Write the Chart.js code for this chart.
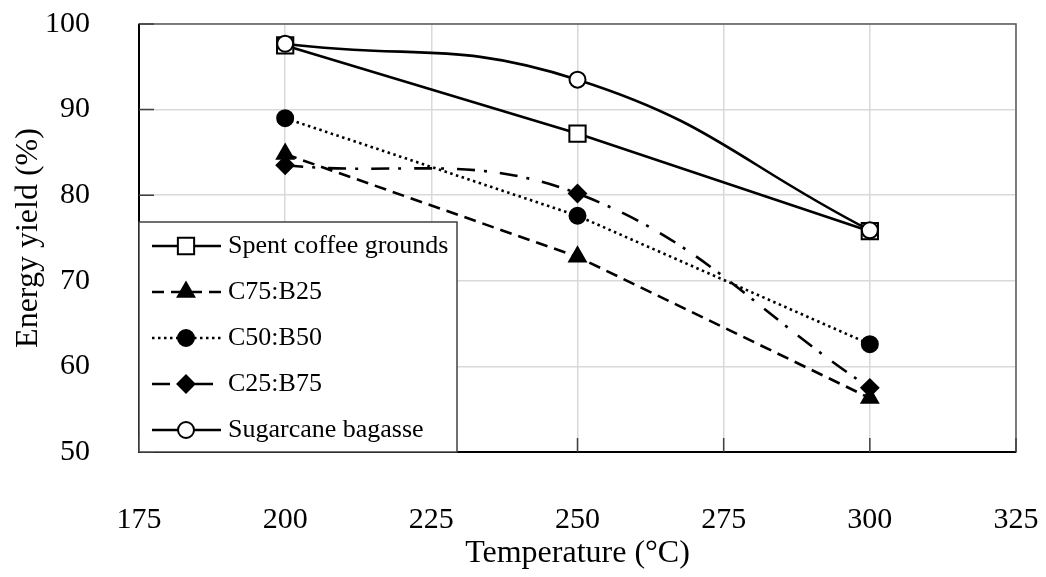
<!DOCTYPE html>
<html>
<head>
<meta charset="utf-8">
<script src="https://cdn.jsdelivr.net/npm/chart.js@4"></script>
<style>
  html, body { margin: 0; padding: 0; background: #fff; }
  #wrap { width: 1046px; height: 577px; }
</style>
</head>
<body>
<div id="wrap"><canvas id="c" width="1046" height="577"></canvas></div>
<script>
// data
const temperatures = [200, 250, 300];
const spentCoffee = [97.5, 87.2, 75.8];
const c75b25 = [84.8, 72.8, 56.3];
const c50b50 = [89.0, 77.6, 62.6];
const c25b75 = [83.5, 80.2, 57.5];
const bagasse = [97.7, 93.5, 75.9];

const xTicks = [175, 200, 225, 250, 275, 300, 325];
const yTicks = [50, 60, 70, 80, 90, 100];

const FONT = "'Liberation Serif', 'Times New Roman', serif";

function pts(vals) {
    return temperatures.map((t, i) => ({ x: t, y: vals[i] }));
}

const datasets = [
    { label: 'Spent coffee grounds', data: pts(spentCoffee), borderDash: [], tension: 0,
      pointStyle: 'rect', pointRadius: 11.5, pointBackgroundColor: '#fff', order: 1 },
    { label: 'C75:B25', data: pts(c75b25), borderDash: [12, 7], tension: 0,
      pointStyle: 'triangle', pointRadius: 9.5, pointBackgroundColor: '#000', order: 1 },
    { label: 'C50:B50', data: pts(c50b50), borderDash: [2.5, 3.5], tension: 0,
      pointStyle: 'circle', pointRadius: 8, pointBackgroundColor: '#000', order: 1 },
    { label: 'C25:B75', data: pts(c25b75), borderDash: [18, 9, 3, 13], tension: 0.4,
      pointStyle: 'rectRot', pointRadius: 8.5, pointBackgroundColor: '#000', order: 1 },
    { label: 'Sugarcane bagasse', data: pts(bagasse), borderDash: [], tension: 0.45,
      pointStyle: 'circle', pointRadius: 8, pointBackgroundColor: '#fff', order: 0 }
].map(d => Object.assign({
    showLine: true,
    borderColor: '#000',
    borderWidth: 2.6,
    pointBorderColor: '#000',
    pointBorderWidth: 2,
    pointHoverRadius: 8,
    fill: false
}, d));

// frame, inner ticks and legend box
const decor = {
    id: 'decor',
    beforeDatasetsDraw(chart) {
        const { ctx, chartArea: a, scales } = chart;
        ctx.save();
        ctx.strokeStyle = '#595959';
        ctx.lineWidth = 1.5;
        ctx.strokeRect(a.left, a.top, a.right - a.left, a.bottom - a.top);
        ctx.strokeStyle = '#000';
        ctx.lineWidth = 2;
        ctx.beginPath();
        ctx.moveTo(a.left, a.top);
        ctx.lineTo(a.left, a.bottom);
        ctx.lineTo(a.right, a.bottom);
        ctx.stroke();
        ctx.strokeStyle = '#404040';
        ctx.lineWidth = 1.5;
        ctx.beginPath();
        yTicks.forEach(v => {
            const y = scales.y.getPixelForValue(v);
            ctx.moveTo(a.left, y);
            ctx.lineTo(a.left + 15, y);
        });
        xTicks.forEach(v => {
            const x = scales.x.getPixelForValue(v);
            ctx.moveTo(x, a.bottom);
            ctx.lineTo(x, a.bottom - 14);
        });
        ctx.stroke();
        ctx.restore();
    },
    afterDatasetsDraw(chart) {
        const { ctx, chartArea: a } = chart;
        const box = { left: a.left, top: 222, right: 457, bottom: a.bottom };
        ctx.save();
        ctx.fillStyle = '#fff';
        ctx.fillRect(box.left, box.top, box.right - box.left, box.bottom - box.top);
        ctx.strokeStyle = '#404040';
        ctx.lineWidth = 1.5;
        ctx.strokeRect(box.left, box.top, box.right - box.left, box.bottom - box.top);

        const rowH = 46;
        chart.data.datasets.forEach((ds, i) => {
            const y = 246 + i * rowH;
            ctx.strokeStyle = '#000';
            ctx.lineWidth = 2.6;
            ctx.setLineDash(ds.borderDash);
            ctx.beginPath();
            ctx.moveTo(152, y);
            ctx.lineTo(221, y);
            ctx.stroke();
            ctx.setLineDash([]);
            ctx.fillStyle = ds.pointBackgroundColor;
            ctx.lineWidth = 2;
            Chart.helpers.drawPoint(ctx, {
                pointStyle: ds.pointStyle,
                radius: ds.pointRadius,
                rotation: 0,
                borderWidth: 2
            }, 186, y);
            ctx.fillStyle = '#000';
            ctx.font = '26px ' + FONT;
            ctx.textBaseline = 'middle';
            ctx.textAlign = 'left';
            ctx.fillText(ds.label, 228, y);
        });
        ctx.restore();
    }
};

new Chart(document.getElementById('c'), {
    type: 'scatter',
    data: { datasets },
    options: {
        responsive: false,
        animation: false,
        layout: { padding: { left: 0, top: 24, right: 30, bottom: 0 } },
        plugins: {
            legend: { display: false },
            tooltip: { enabled: false }
        },
        scales: {
            x: {
                type: 'linear',
                min: 175, max: 325,
                afterBuildTicks: s => { s.ticks = xTicks.map(v => ({ value: v })); },
                afterFit: s => { s.height = 125; s.paddingLeft = 0; s.paddingRight = 0; },
                grid: { color: '#d9d9d9', lineWidth: 1.5, drawTicks: false },
                border: { display: false },
                ticks: { color: '#000', padding: 50, font: { family: FONT, size: 30 } },
                title: { display: true, text: 'Temperature (°C)', color: '#000',
                         padding: { top: 0, bottom: 4 }, font: { family: FONT, size: 32 } }
            },
            y: {
                min: 50, max: 100,
                afterBuildTicks: s => { s.ticks = yTicks.map(v => ({ value: v })); },
                afterFit: s => { s.width = 139; s.paddingTop = 0; s.paddingBottom = 0; },
                grid: { color: '#d9d9d9', lineWidth: 1.5, drawTicks: false },
                border: { display: false },
                ticks: { color: '#000', padding: 49, font: { family: FONT, size: 30 } },
                title: { display: true, text: 'Energy yield (%)', color: '#000',
                         padding: { top: 9, bottom: 0 }, font: { family: FONT, size: 32 } }
            }
        }
    },
    plugins: [decor]
});
</script>
</body>
</html>
